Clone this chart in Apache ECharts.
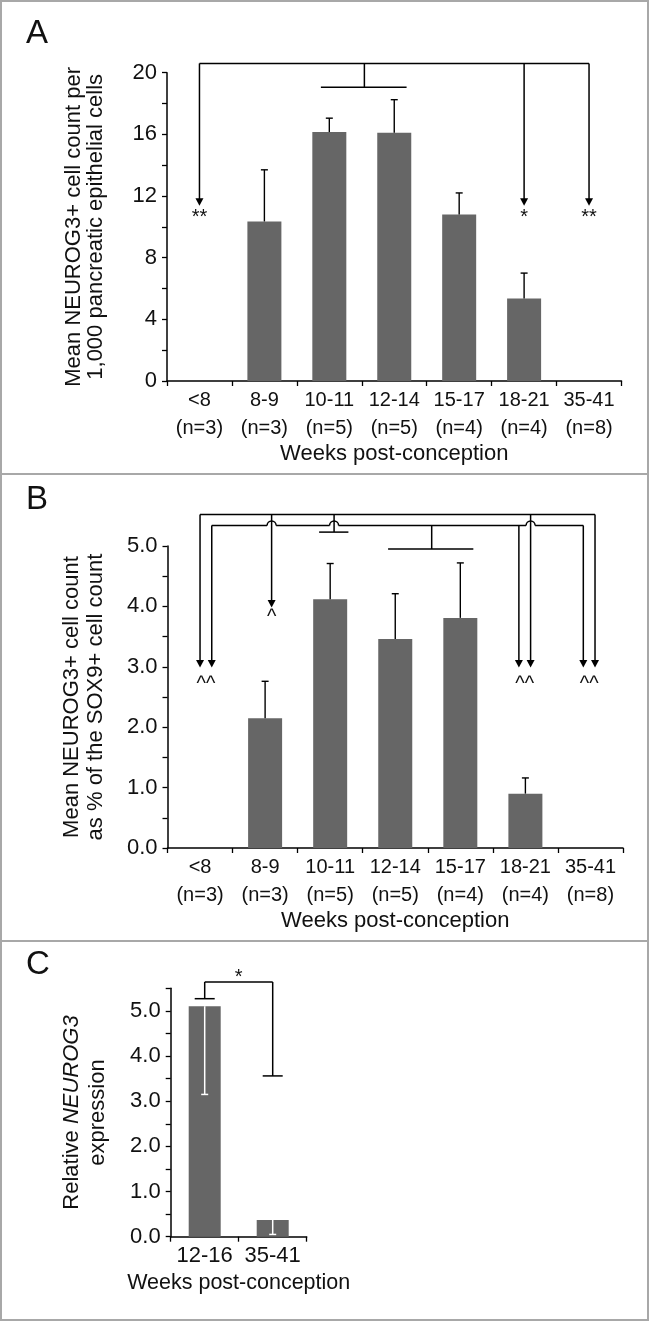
<!DOCTYPE html>
<html><head><meta charset="utf-8">
<script src="https://cdn.jsdelivr.net/npm/echarts@6/dist/echarts.min.js"></script>
<style>html,body{margin:0;padding:0;background:#fff}#c{width:649px;height:1321px}</style>
</head><body><div id="c"></div>
<script>
// ---------------- data ----------------
const weekCategories = ['<8', '8-9', '10-11', '12-14', '15-17', '18-21', '35-41'];
const sampleSizes = ['(n=3)', '(n=3)', '(n=5)', '(n=5)', '(n=4)', '(n=4)', '(n=8)'];
const neurog3Per1000 = [0, 10.35, 16.15, 16.1, 10.8, 5.35, 0];
const neurog3Per1000ErrUpper = [null, 13.7, 17.05, 18.25, 12.2, 7.0, null];
const neurog3PctSox9 = [0, 2.15, 4.12, 3.46, 3.81, 0.9, 0];
const neurog3PctSox9ErrUpper = [null, 2.76, 4.71, 4.21, 4.72, 1.16, null];
const qpcrCategories = ['12-16', '35-41'];
const relNeurog3 = [5.10, 0.37];
const relNeurog3ErrUpper = [5.27, 3.56];
const relNeurog3ErrLower = [3.15, 0.05];
const yTicksA = [0, 4, 8, 12, 16, 20];
const yTicksB = [0, 1, 2, 3, 4, 5];
const yTicksC = [0, 1, 2, 3, 4, 5];

// significance annotations (x in category-index units, y in data units)
const sigALines = [[[0, 20.6], [6, 20.6]], [[2.54, 20.6], [2.54, 19.05]], [[1.87, 19.05], [3.19, 19.05]]];
const sigAArrows = [[0, 20.6, 11.37], [5, 20.6, 11.37], [6, 20.6, 11.37]];
const sigAMarks = [[0, 10.62, '**'], [5, 10.62, '*'], [6, 10.62, '**']];

const sigBLines = [[[0, 5.52], [6.07, 5.52]],
  [[2.06, 5.52], [2.06, 5.23]], [[1.83, 5.23], [2.28, 5.23]],
  [[3.56, 5.34], [3.56, 4.95]], [[2.89, 4.95], [4.2, 4.95]]];
const sigBHopLine = {from: 0.18, to: 5.89, y: 5.34, hops: [1.1, 2.06, 5.08]};
const sigBArrows = [[0, 5.52, 2.99], [0.18, 5.34, 2.99], [1.1, 5.52, 3.98], [4.9, 5.34, 2.99],
  [5.08, 5.52, 2.99], [5.89, 5.34, 2.99], [6.07, 5.52, 2.99]];
const sigBMarks = [[0.09, 2.71, '^^'], [1.1, 3.81, '^'], [4.99, 2.71, '^^'], [5.98, 2.71, '^^']];

const sigCLines = [[[0, 5.27], [0, 5.64]], [[0, 5.64], [1, 5.64]], [[1, 5.64], [1, 3.56]]];
const sigCMarks = [[0.5, 5.73, '*']];

// ---------------- styling ----------------
const FONT = '"Liberation Sans", Arial, Helvetica, sans-serif';
const INK = '#111';
const BAR = '#666666';

function toPx(api, xf, y) {
  const i = Math.round(xf);
  const c = api.coord([i, y]);
  const bw = api.size([1, 0])[0];
  return [c[0] + (xf - i) * bw, c[1]];
}
function seg(p, q, w) {
  return {type: 'line', shape: {x1: p[0], y1: p[1], x2: q[0], y2: q[1]}, style: {stroke: '#000', lineWidth: w || 1.5}};
}
function annotRender(lines, arrows, marks, hopLine) {
  return function (params, api) {
    const ch = [];
    (lines || []).forEach(l => ch.push(seg(toPx(api, l[0][0], l[0][1]), toPx(api, l[1][0], l[1][1]))));
    (arrows || []).forEach(a => {
      const p0 = toPx(api, a[0], a[1]), p1 = toPx(api, a[0], a[2]);
      ch.push(seg(p0, [p1[0], p1[1] - 6]));
      ch.push({type: 'polygon', shape: {points: [[p1[0] - 4, p1[1] - 7.5], [p1[0] + 4, p1[1] - 7.5], [p1[0], p1[1]]]}, style: {fill: '#000'}});
    });
    if (hopLine) {
      const r = 4.5;
      const xs = hopLine.hops.map(h => toPx(api, h, hopLine.y)[0]);
      const a = toPx(api, hopLine.from, hopLine.y), b = toPx(api, hopLine.to, hopLine.y);
      let cur = a[0];
      xs.forEach(x => {
        ch.push(seg([cur, a[1]], [x - r, a[1]]));
        ch.push({type: 'arc', shape: {cx: x, cy: a[1], r: r, startAngle: Math.PI, endAngle: 2 * Math.PI, clockwise: true}, style: {stroke: '#000', fill: null, lineWidth: 1.5}});
        cur = x + r;
      });
      ch.push(seg([cur, a[1]], [b[0], a[1]]));
    }
    (marks || []).forEach(m => {
      const p = toPx(api, m[0], m[1]);
      ch.push({type: 'text', x: p[0], y: p[1], style: {text: m[2], fontSize: 20, fontFamily: FONT, fill: INK, align: 'center', verticalAlign: 'middle'}});
    });
    return {type: 'group', children: ch};
  };
}
function errUpperRender(capHalf) {
  return function (params, api) {
    const i = api.value(0), v = api.value(1), t = api.value(2);
    if (t == null || isNaN(t)) return null;
    const p0 = api.coord([i, v]), p1 = api.coord([i, t]);
    return {type: 'group', children: [
      seg(p0, p1, 1.4), seg([p1[0] - capHalf, p1[1]], [p1[0] + capHalf, p1[1]], 1.4)]};
  };
}
function errCRender(params, api) {
  const i = api.value(0), v = api.value(1), hi = api.value(2), lo = api.value(3);
  const p0 = api.coord([i, v]), ph = api.coord([i, hi]), pl = api.coord([i, lo]);
  const white = (p, q) => ({type: 'line', shape: {x1: p[0], y1: p[1], x2: q[0], y2: q[1]}, style: {stroke: '#fff', lineWidth: 1.5}});
  return {type: 'group', children: [
    white(p0, ph), white(p0, pl), white([pl[0] - 3.5, pl[1]], [pl[0] + 3.5, pl[1]]),
    seg([ph[0] - 10, ph[1]], [ph[0] + 10, ph[1]], 1.5)]};
}

const axisLine = {show: true, onZero: false, lineStyle: {color: '#000', width: 1.5}};
const axisTick = {show: true, length: 5, lineStyle: {color: '#000', width: 1.3}};

function yAx(grid, max, ticks, dec, name, gap, lh) {
  return {
    type: 'value', gridIndex: grid, min: 0, max: max, interval: dec ? 0.5 : 2,
    axisLine: axisLine, axisTick: axisTick, splitLine: {show: false},
    axisLabel: {margin: 10, fontSize: 22, fontFamily: FONT, color: INK,
      formatter: v => ticks.some(t => Math.abs(t - v) < 1e-9) ? (dec ? v.toFixed(1) : String(v)) : ''},
    name: name, nameLocation: 'middle', nameGap: gap,
    nameTextStyle: {fontSize: 22, fontFamily: FONT, color: INK, lineHeight: lh, align: 'center',
      rich: {i: {fontStyle: 'italic', fontSize: 22, fontFamily: FONT, color: INK, lineHeight: lh}}}
  };
}
function xAx(grid, cats, withN, fs, margin, gap, nfs) {
  return {
    type: 'category', gridIndex: grid, data: cats,
    axisLine: axisLine, axisTick: Object.assign({alignWithLabel: false}, axisTick),
    axisLabel: {interval: 0, margin: margin, fontSize: fs, fontFamily: FONT, color: INK, lineHeight: withN ? 28 : fs,
      formatter: (v, i) => withN ? v + '\n' + sampleSizes[i] : v},
    name: 'Weeks post-conception', nameLocation: 'middle', nameGap: gap,
    nameTextStyle: {fontSize: nfs, fontFamily: FONT, color: INK}
  };
}

const option = {
  animation: false,
  backgroundColor: '#fff',
  grid: [
    {left: 167, top: 72.7, width: 454.5, height: 308.3, outerBoundsMode: 'none', containLabel: false},
    {left: 167.5, top: 546, width: 455.5, height: 302, outerBoundsMode: 'none', containLabel: false},
    {left: 170.7, top: 988.3, width: 136, height: 248.4, outerBoundsMode: 'none', containLabel: false}
  ],
  xAxis: [
    xAx(0, weekCategories, true, 20, 5, 59, 22),
    xAx(1, weekCategories, true, 20, 5, 57, 22),
    xAx(2, qpcrCategories, false, 22, 8, 35, 21.5)
  ],
  yAxis: [
    yAx(0, 20, yTicksA, false, 'Mean NEUROG3+ cell count per\n1,000 pancreatic epithelial cells', 60, 22),
    yAx(1, 5, yTicksB, true, 'Mean NEUROG3+ cell count\nas % of the SOX9+ cell count', 60, 24),
    yAx(2, 5.5, yTicksC, true, 'Relative {i|NEUROG3}\nexpression', 60, 26)
  ],
  graphic: [
    {type: 'rect', shape: {x: 1, y: 1, width: 647, height: 1319}, style: {fill: null, stroke: '#a8a8a8', lineWidth: 2}, silent: true},
    {type: 'line', shape: {x1: 0, y1: 474, x2: 649, y2: 474}, style: {stroke: '#a8a8a8', lineWidth: 2}, silent: true},
    {type: 'line', shape: {x1: 0, y1: 941, x2: 649, y2: 941}, style: {stroke: '#a8a8a8', lineWidth: 2}, silent: true},
    {type: 'text', x: 26, y: 34, style: {text: 'A', fontSize: 33, fontFamily: FONT, fill: INK, verticalAlign: 'middle'}},
    {type: 'text', x: 26, y: 500, style: {text: 'B', fontSize: 33, fontFamily: FONT, fill: INK, verticalAlign: 'middle'}},
    {type: 'text', x: 26, y: 965, style: {text: 'C', fontSize: 33, fontFamily: FONT, fill: INK, verticalAlign: 'middle'}}
  ],
  series: [
    {type: 'bar', xAxisIndex: 0, yAxisIndex: 0, data: neurog3Per1000, barWidth: 34, itemStyle: {color: BAR}, silent: true},
    {type: 'custom', xAxisIndex: 0, yAxisIndex: 0, clip: false, z: 5, silent: true, renderItem: errUpperRender(3.5),
      data: weekCategories.map((c, i) => [i, neurog3Per1000[i], neurog3Per1000ErrUpper[i]])},
    {type: 'custom', xAxisIndex: 0, yAxisIndex: 0, clip: false, z: 6, silent: true,
      renderItem: annotRender(sigALines, sigAArrows, sigAMarks, null), data: [[0, 0]]},

    {type: 'bar', xAxisIndex: 1, yAxisIndex: 1, data: neurog3PctSox9, barWidth: 34, itemStyle: {color: BAR}, silent: true},
    {type: 'custom', xAxisIndex: 1, yAxisIndex: 1, clip: false, z: 5, silent: true, renderItem: errUpperRender(3.5),
      data: weekCategories.map((c, i) => [i, neurog3PctSox9[i], neurog3PctSox9ErrUpper[i]])},
    {type: 'custom', xAxisIndex: 1, yAxisIndex: 1, clip: false, z: 6, silent: true,
      renderItem: annotRender(sigBLines, sigBArrows, sigBMarks, sigBHopLine), data: [[0, 0]]},

    {type: 'bar', xAxisIndex: 2, yAxisIndex: 2, data: relNeurog3, barWidth: 32, itemStyle: {color: BAR}, silent: true},
    {type: 'custom', xAxisIndex: 2, yAxisIndex: 2, clip: false, z: 5, silent: true, renderItem: errCRender,
      data: qpcrCategories.map((c, i) => [i, relNeurog3[i], relNeurog3ErrUpper[i], relNeurog3ErrLower[i]])},
    {type: 'custom', xAxisIndex: 2, yAxisIndex: 2, clip: false, z: 6, silent: true,
      renderItem: annotRender(sigCLines, null, sigCMarks, null), data: [[0, 0]]}
  ]
};
const chart = echarts.init(document.getElementById('c'), null, {renderer: 'canvas'});
chart.setOption(option);
</script>
</body></html>
